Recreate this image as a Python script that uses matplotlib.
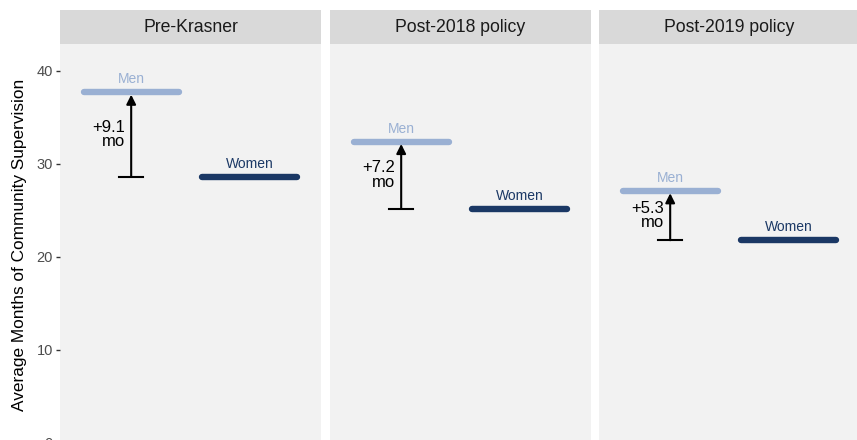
import matplotlib.pyplot as plt

plt.rcParams['font.family'] = ['Liberation Sans', 'DejaVu Sans']

periods = ['Pre-Krasner', 'Post-2018 policy', 'Post-2019 policy']
groups = ['Men', 'Women']
men = [37.7, 32.4, 27.1]
women = [28.6, 25.2, 21.8]
gap_labels = ['+9.1\nmo', '+7.2\nmo', '+5.3\nmo']
yticks = [0, 10, 20, 30, 40]

men_col = '#9AB0D3'
women_col = '#1B3865'

W, H = 857, 440
fig = plt.figure(figsize=(W / 100, H / 100), dpi=100)

lefts = [60, 330, 599]
pw = 261
top, bottom = 44, 462

for i, period in enumerate(periods):
    ax = fig.add_axes([lefts[i] / W, 1 - bottom / H, pw / W, (bottom - top) / H])
    ax.set_facecolor('#F2F2F2')
    for s in ax.spines.values():
        s.set_visible(False)
    ax.set_xlim(0.4, 2.6)
    ax.set_ylim(-2.05, 42.9)
    ax.set_xticks([])
    ax.set_yticks(yticks)
    if i == 0:
        ax.tick_params(axis='y', length=3, width=1, color='#333333',
                       labelsize=10.5, labelcolor='#4D4D4D', pad=2)
        ax.set_ylabel('Average Months of Community Supervision', fontsize=12.4,
                      color='black')
        ax.yaxis.set_label_coords(-33 / pw, (bottom - 245) / (bottom - top))
    else:
        ax.tick_params(axis='y', length=0, labelleft=False)

    vals = [men[i], women[i]]
    cols = [men_col, women_col]
    for x, (g, v, c) in enumerate(zip(groups, vals, cols), start=1):
        ax.plot([x - 0.4, x + 0.4], [v, v], color=c, lw=4.6, solid_capstyle='round')
        ax.text(x, v + 0.65, g, color=c, fontsize=10, ha='center', va='bottom')

    # gap arrow
    ax.annotate('', xy=(1, men[i] - 0.25), xytext=(1, women[i]),
                arrowprops=dict(arrowstyle='-|>', color='black', lw=1.5,
                                mutation_scale=14, shrinkA=0, shrinkB=0))
    ax.plot([0.9, 1.1], [women[i], women[i]], color='black', lw=1.5)
    ax.text(0.95, (men[i] + women[i]) / 2, gap_labels[i], ha='right', va='center',
            fontsize=12, color='black', linespacing=0.95, multialignment='right')

    # facet strip
    sx = fig.add_axes([lefts[i] / W, 1 - top / H, pw / W, 34 / H])
    sx.set_facecolor('#D9D9D9')
    sx.set_xticks([])
    sx.set_yticks([])
    for s in sx.spines.values():
        s.set_visible(False)
    sx.text(0.5, 0.5, period, ha='center', va='center', fontsize=12.7, color='#1A1A1A',
            transform=sx.transAxes)

fig.savefig('out.png', dpi=100)
